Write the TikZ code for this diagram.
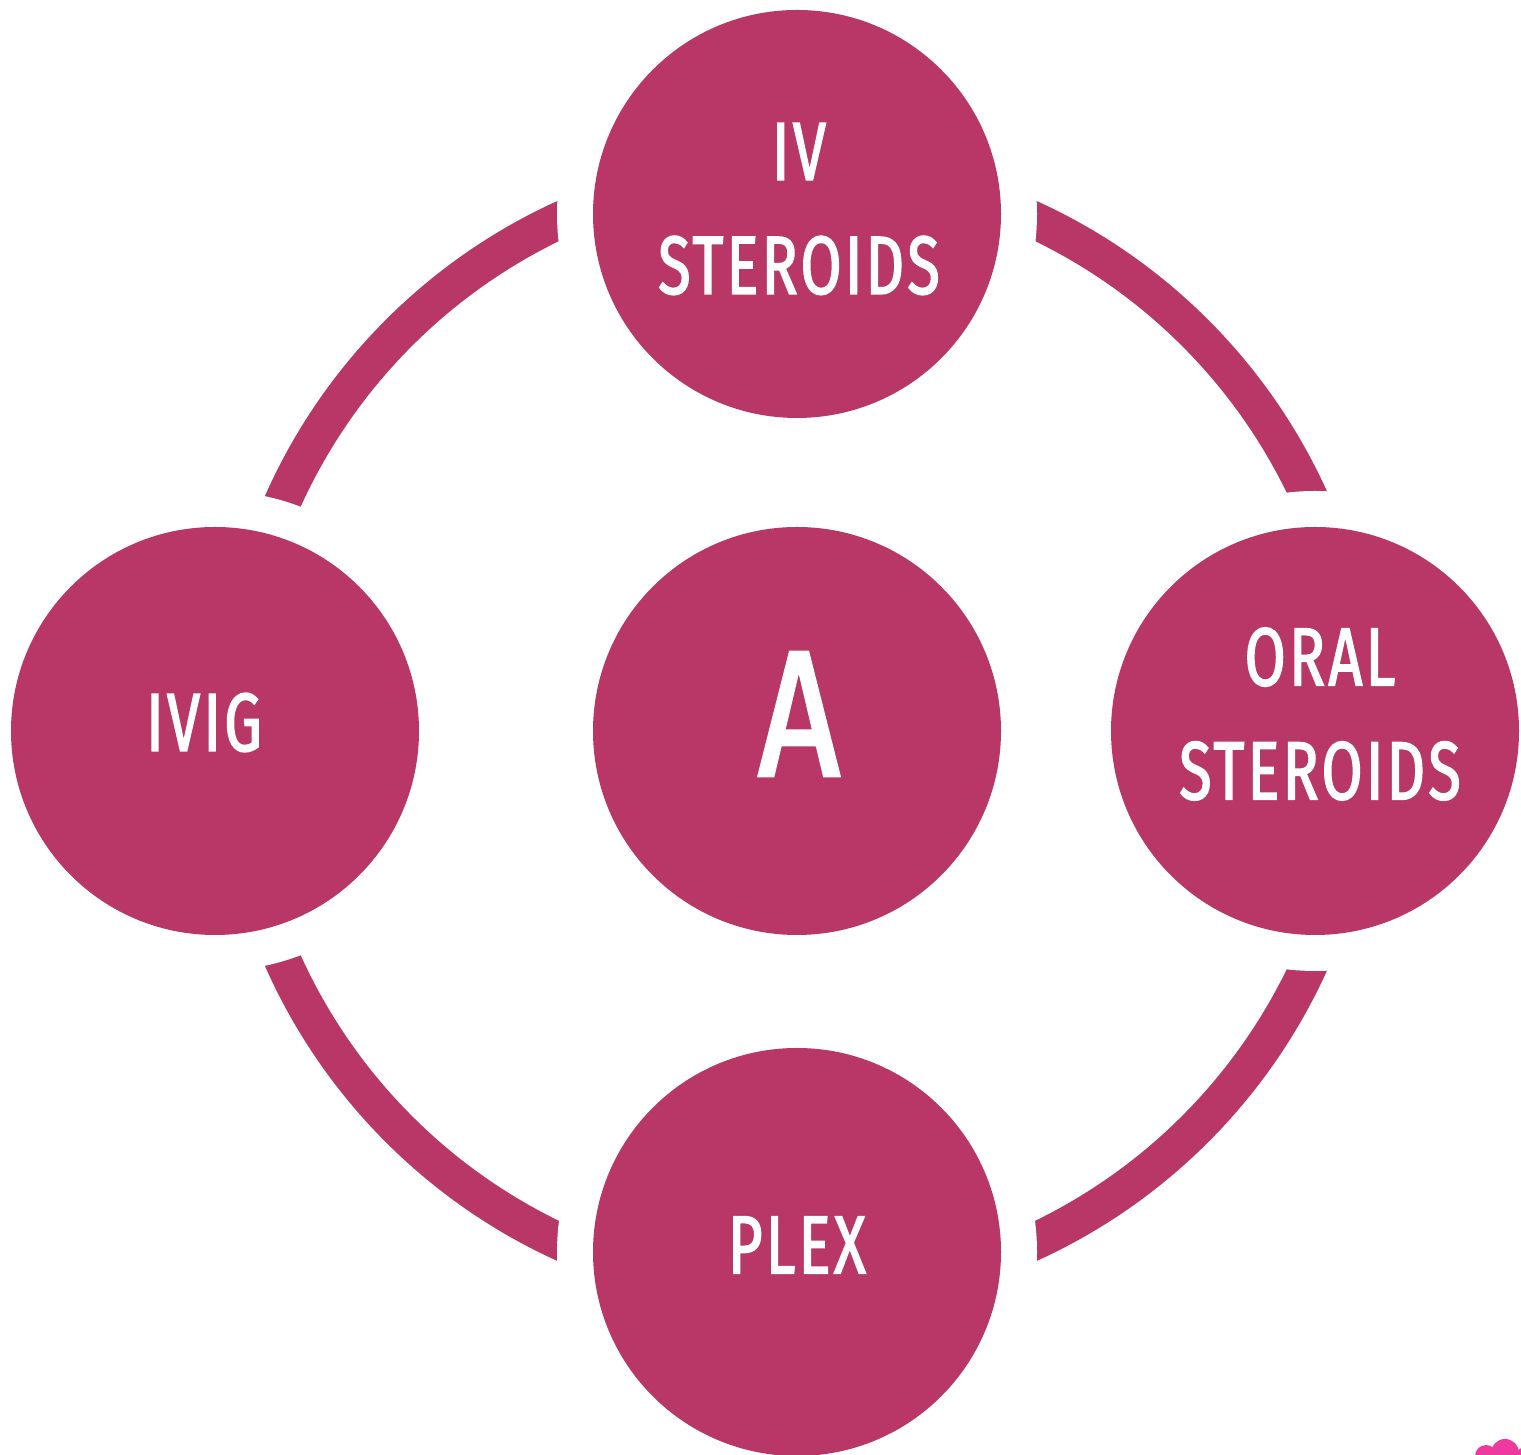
\documentclass[tikz,border=0pt]{standalone}
\usepackage{fontspec}
\setmainfont{Fira Sans}[FakeStretch=0.72, FakeBold=1.8, LetterSpace=4]
\definecolor{berry}{HTML}{B83767}
\definecolor{petal}{HTML}{EE3A9E}
\tikzset{
  disc/.style={circle, fill=berry, minimum size=4.08cm, inner sep=0pt,
    preaction={draw=white, line width=7.2mm}},
  lbl/.style={text=white, font=\fontsize{23.5}{32.4}\selectfont,
    align=center, inner sep=0pt},
  ring/.style={draw=berry, line width=3.7mm}
}
\begin{document}
\begin{tikzpicture}
        \useasboundingbox (0,0) rectangle (15.21,14.55);

        % Centre and outer ring
        \coordinate (hub) at (7.97,7.24);
        \draw[ring] (hub) circle (5.63);

        % Discs
        \node[disc] (centre) at (hub) {};
        \node[disc] (top) at (7.97,12.41) {};
        \node[disc] (left) at (2.15,7.24) {};
        \node[disc] (right) at (13.15,7.24) {};
        \node[disc] (bottom) at (7.97,2.03) {};

        % Labels
        \node[lbl, font=\fontsize{51}{51}\selectfont, xscale=1.1] (centretext) at (7.99,7.41) {A};
        \node[lbl] (toptext) at (7.99,12.46) {IV\\STEROIDS};
        \node[lbl] (lefttext) at (2.04,7.325) {IVIG};
        \node[lbl] (righttext) at (13.20,7.41) {ORAL\\STEROIDS};
        \node[lbl] (bottomtext) at (7.97,2.10) {PLEX};

        % Corner mark
        \begin{scope}
          \clip (0,0) rectangle (15.21,14.55);
          \fill[petal] (14.86,-0.01) circle (0.11);
          \fill[petal] (15.05,0.02) circle (0.14);
          \fill[petal] (15.25,0.00) circle (0.08);
        \end{scope}
    \end{tikzpicture}
\end{document}
